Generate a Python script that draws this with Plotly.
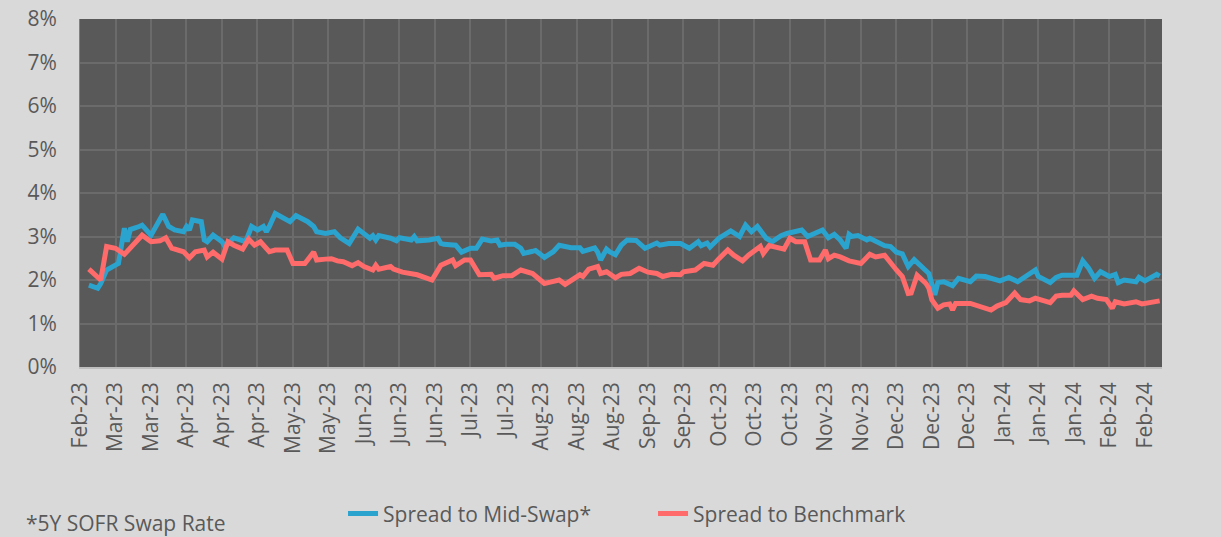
import plotly.graph_objects as go

# ---- data (values in %) ----
mid_swap_dates = [
    "2023-03-03", "2023-03-06", "2023-03-07", "2023-03-09", "2023-03-13", "2023-03-15", "2023-03-16",
    "2023-03-17", "2023-03-20", "2023-03-21", "2023-03-24", "2023-03-26", "2023-03-28", "2023-03-30",
    "2023-04-01", "2023-04-04", "2023-04-05", "2023-04-06", "2023-04-07", "2023-04-10", "2023-04-11",
    "2023-04-12", "2023-04-14", "2023-04-17", "2023-04-18", "2023-04-21", "2023-04-23", "2023-04-25",
    "2023-04-27", "2023-04-29", "2023-05-01", "2023-05-02", "2023-05-03", "2023-05-05", "2023-05-10",
    "2023-05-12", "2023-05-16", "2023-05-18", "2023-05-19", "2023-05-22", "2023-05-25", "2023-05-27",
    "2023-05-30", "2023-06-02", "2023-06-06", "2023-06-07", "2023-06-08", "2023-06-09", "2023-06-13",
    "2023-06-15", "2023-06-16", "2023-06-20", "2023-06-21", "2023-06-22", "2023-06-26", "2023-06-29",
    "2023-06-30", "2023-07-01", "2023-07-05", "2023-07-07", "2023-07-10", "2023-07-12", "2023-07-14",
    "2023-07-17", "2023-07-19", "2023-07-20", "2023-07-22", "2023-07-25", "2023-07-27", "2023-07-28",
    "2023-07-31", "2023-08-01", "2023-08-04", "2023-08-07", "2023-08-09", "2023-08-13", "2023-08-16",
    "2023-08-17", "2023-08-21", "2023-08-22", "2023-08-23", "2023-08-25", "2023-08-26", "2023-08-28",
    "2023-08-30", "2023-09-01", "2023-09-04", "2023-09-07", "2023-09-11", "2023-09-12", "2023-09-15",
    "2023-09-19", "2023-09-22", "2023-09-25", "2023-09-26", "2023-09-28", "2023-09-29", "2023-10-02",
    "2023-10-06", "2023-10-09", "2023-10-11", "2023-10-13", "2023-10-15", "2023-10-18", "2023-10-20",
    "2023-10-23", "2023-10-25", "2023-10-27", "2023-10-30", "2023-11-01", "2023-11-03", "2023-11-06",
    "2023-11-08", "2023-11-10", "2023-11-12", "2023-11-14", "2023-11-15", "2023-11-16", "2023-11-18",
    "2023-11-21", "2023-11-22", "2023-11-24", "2023-11-27", "2023-11-29", "2023-12-01", "2023-12-03",
    "2023-12-05", "2023-12-07", "2023-12-10", "2023-12-12", "2023-12-14", "2023-12-15", "2023-12-17",
    "2023-12-20", "2023-12-22", "2023-12-26", "2023-12-28", "2023-12-31", "2024-01-05", "2024-01-08",
    "2024-01-11", "2024-01-14", "2024-01-17", "2024-01-18", "2024-01-22", "2024-01-24", "2024-01-26",
    "2024-01-31", "2024-02-02", "2024-02-04", "2024-02-06", "2024-02-08", "2024-02-11", "2024-02-13",
    "2024-02-14", "2024-02-16", "2024-02-20", "2024-02-21", "2024-02-23", "2024-02-27", "2024-02-28",
]
spread_mid_swap = [
    1.88, 1.81, 1.92, 2.23, 2.38, 3.19, 2.88,
    3.16, 3.23, 3.26, 3.03, 3.30, 3.51, 3.23,
    3.15, 3.11, 3.23, 3.15, 3.38, 3.34, 2.92,
    2.88, 3.03, 2.88, 2.77, 2.97, 2.92, 2.88,
    3.23, 3.15, 3.23, 3.11, 3.23, 3.53, 3.34,
    3.48, 3.34, 3.23, 3.11, 3.07, 3.11, 2.97,
    2.84, 3.17, 2.96, 3.02, 2.92, 3.02, 2.96,
    2.90, 2.97, 2.92, 3.00, 2.90, 2.92, 2.96,
    2.84, 2.82, 2.80, 2.64, 2.73, 2.73, 2.94,
    2.90, 2.92, 2.80, 2.82, 2.82, 2.73, 2.61,
    2.66, 2.68, 2.52, 2.65, 2.80, 2.74, 2.74,
    2.66, 2.74, 2.64, 2.46, 2.71, 2.65, 2.58,
    2.80, 2.92, 2.91, 2.73, 2.85, 2.80, 2.84,
    2.84, 2.73, 2.88, 2.79, 2.85, 2.76, 2.96,
    3.13, 3.00, 3.26, 3.11, 3.23, 2.96, 2.88,
    3.02, 3.07, 3.10, 3.15, 3.00, 3.07, 3.15,
    2.97, 3.05, 2.92, 2.73, 3.05, 3.00, 3.02,
    2.92, 2.96, 2.88, 2.79, 2.77, 2.64, 2.60,
    2.31, 2.47, 2.27, 2.15, 1.66, 1.94, 1.96,
    1.87, 2.04, 1.96, 2.09, 2.08, 1.98, 2.06,
    1.96, 2.11, 2.23, 2.08, 1.94, 2.06, 2.11,
    2.11, 2.44, 2.27, 2.04, 2.19, 2.08, 2.13,
    1.94, 2.00, 1.96, 2.06, 1.98, 2.13, 2.09,
]

benchmark_dates = [
    "2023-03-03", "2023-03-05", "2023-03-07", "2023-03-09", "2023-03-12", "2023-03-15", "2023-03-17",
    "2023-03-21", "2023-03-24", "2023-03-27", "2023-03-29", "2023-03-31", "2023-04-04", "2023-04-06",
    "2023-04-08", "2023-04-11", "2023-04-12", "2023-04-14", "2023-04-17", "2023-04-19", "2023-04-21",
    "2023-04-24", "2023-04-26", "2023-04-28", "2023-04-30", "2023-05-03", "2023-05-05", "2023-05-09",
    "2023-05-11", "2023-05-15", "2023-05-18", "2023-05-19", "2023-05-22", "2023-05-24", "2023-05-26",
    "2023-05-28", "2023-05-31", "2023-06-02", "2023-06-04", "2023-06-07", "2023-06-08", "2023-06-09",
    "2023-06-13", "2023-06-14", "2023-06-17", "2023-06-22", "2023-06-27", "2023-06-30", "2023-07-04",
    "2023-07-05", "2023-07-08", "2023-07-10", "2023-07-13", "2023-07-17", "2023-07-18", "2023-07-21",
    "2023-07-24", "2023-07-27", "2023-07-31", "2023-08-04", "2023-08-06", "2023-08-09", "2023-08-11",
    "2023-08-14", "2023-08-16", "2023-08-17", "2023-08-19", "2023-08-22", "2023-08-23", "2023-08-25",
    "2023-08-28", "2023-08-30", "2023-09-02", "2023-09-05", "2023-09-08", "2023-09-11", "2023-09-13",
    "2023-09-16", "2023-09-19", "2023-09-20", "2023-09-24", "2023-09-27", "2023-09-30", "2023-10-02",
    "2023-10-05", "2023-10-07", "2023-10-10", "2023-10-12", "2023-10-16", "2023-10-17", "2023-10-19",
    "2023-10-24", "2023-10-26", "2023-10-28", "2023-10-31", "2023-11-02", "2023-11-05", "2023-11-07",
    "2023-11-08", "2023-11-10", "2023-11-12", "2023-11-15", "2023-11-19", "2023-11-22", "2023-11-24",
    "2023-11-27", "2023-11-29", "2023-12-01", "2023-12-03", "2023-12-05", "2023-12-06", "2023-12-08",
    "2023-12-11", "2023-12-12", "2023-12-13", "2023-12-15", "2023-12-17", "2023-12-19", "2023-12-20",
    "2023-12-21", "2023-12-26", "2023-12-29", "2024-01-02", "2024-01-04", "2024-01-07", "2024-01-10",
    "2024-01-12", "2024-01-15", "2024-01-17", "2024-01-20", "2024-01-22", "2024-01-24", "2024-01-26",
    "2024-01-29", "2024-01-30", "2024-02-02", "2024-02-05", "2024-02-07", "2024-02-10", "2024-02-12",
    "2024-02-13", "2024-02-16", "2024-02-20", "2024-02-22", "2024-02-26", "2024-02-28",
]
spread_benchmark = [
    2.25, 2.13, 2.00, 2.77, 2.73, 2.59, 2.73,
    3.03, 2.88, 2.90, 2.97, 2.73, 2.65, 2.51,
    2.65, 2.69, 2.53, 2.64, 2.48, 2.88, 2.80,
    2.71, 2.94, 2.80, 2.88, 2.65, 2.69, 2.69,
    2.38, 2.38, 2.64, 2.46, 2.48, 2.49, 2.44,
    2.42, 2.33, 2.40, 2.31, 2.23, 2.34, 2.25,
    2.31, 2.25, 2.18, 2.12, 2.00, 2.34, 2.46,
    2.33, 2.46, 2.46, 2.12, 2.13, 2.04, 2.10,
    2.10, 2.23, 2.15, 1.92, 1.95, 2.00, 1.90,
    2.04, 2.12, 2.08, 2.25, 2.31, 2.15, 2.19,
    2.05, 2.13, 2.15, 2.27, 2.18, 2.15, 2.08,
    2.13, 2.12, 2.19, 2.23, 2.38, 2.34, 2.49,
    2.69, 2.57, 2.44, 2.57, 2.77, 2.61, 2.79,
    2.71, 2.96, 2.88, 2.88, 2.46, 2.46, 2.69,
    2.49, 2.57, 2.53, 2.44, 2.38, 2.59, 2.53,
    2.57, 2.38, 2.23, 2.08, 1.69, 1.70, 2.11,
    1.92, 1.81, 1.54, 1.35, 1.43, 1.45, 1.31,
    1.46, 1.46, 1.40, 1.31, 1.40, 1.48, 1.70,
    1.55, 1.52, 1.58, 1.52, 1.48, 1.63, 1.65,
    1.65, 1.75, 1.55, 1.63, 1.58, 1.55, 1.35,
    1.50, 1.45, 1.50, 1.45, 1.48, 1.52,
]

series_names = ["Spread to Mid-Swap*", "Spread to Benchmark"]
series_colors = ["#2BA3CF", "#FF6B6B"]
y_ticks = [0, 1, 2, 3, 4, 5, 6, 7, 8]
y_tick_labels = ["0%", "1%", "2%", "3%", "4%", "5%", "6%", "7%", "8%"]
x_range = ["2023-02-28", "2024-02-28 19:00"]
tick_start = "2023-02-28"
tick_step_days = 12
footnote = "*5Y SOFR Swap Rate"

TEXT = "#595959"
BG = "#D9D9D9"
FONT = "Open Sans"
FS = 21

fig = go.Figure()
fig.add_trace(go.Scatter(x=mid_swap_dates, y=spread_mid_swap, mode="lines",
                         name=series_names[0],
                         line=dict(color=series_colors[0], width=5)))
fig.add_trace(go.Scatter(x=benchmark_dates, y=spread_benchmark, mode="lines",
                         name=series_names[1],
                         line=dict(color=series_colors[1], width=5)))

fig.update_layout(
    width=1221, height=537,
    margin=dict(l=80, r=59, t=19, b=170, autoexpand=False),
    paper_bgcolor=BG,
    plot_bgcolor="#595959",
    font=dict(family=FONT, size=FS, color=TEXT),
    showlegend=True,
    legend=dict(orientation="h", x=0.2431, xanchor="left", y=-0.422, yanchor="middle",
                bgcolor="rgba(0,0,0,0)", font=dict(size=FS, color=TEXT),
                entrywidth=265, entrywidthmode="pixels", tracegroupgap=0),
    annotations=[dict(text=footnote, xref="paper", yref="paper", x=-0.0515, y=-0.448,
                      xanchor="left", yanchor="middle", showarrow=False,
                      font=dict(size=FS, color=TEXT))],
)

fig.update_xaxes(
    type="date", range=x_range,
    tick0=tick_start, dtick=tick_step_days * 86400000, tickformat="%b-%y",
    tickangle=-90, tickfont=dict(size=FS, color=TEXT),
    showgrid=True, gridcolor="#6B6B6B", gridwidth=1.5,
    showline=True, linecolor="#BFBFBF", linewidth=1.5,
    ticks="", ticklabelstandoff=5,
    zeroline=False, automargin=False,
)
fig.update_yaxes(
    range=[0, 8], tickmode="array", tickvals=y_ticks, ticktext=y_tick_labels,
    tickfont=dict(size=FS, color=TEXT),
    showgrid=True, gridcolor="#6B6B6B", gridwidth=1.5,
    showline=True, linecolor="#808080", linewidth=1,
    ticks="", ticklabelstandoff=18,
    zeroline=False, automargin=False,
)

fig.write_html(
    "out.html",
    config={"displayModeBar": False},
    post_script=(
        "document.body.style.margin='0';"
        "document.body.style.background='" + BG + "';"
        "document.body.style.overflow='hidden';"
    ),
)
